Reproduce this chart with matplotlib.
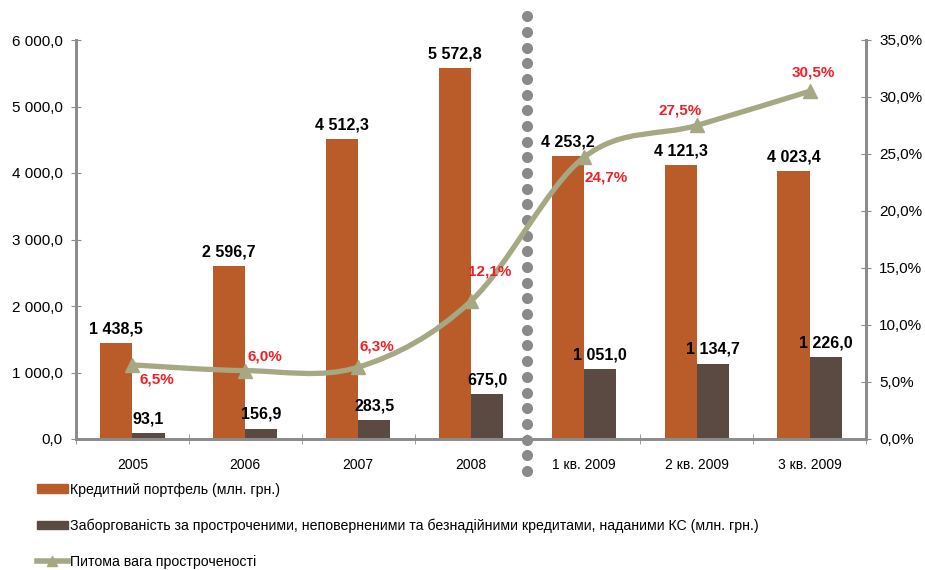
import matplotlib
matplotlib.use('Agg')
import matplotlib.pyplot as plt
from matplotlib.path import Path
from matplotlib.patches import PathPatch, Patch
from matplotlib.lines import Line2D
from matplotlib.ticker import FuncFormatter
import matplotlib.transforms as mtransforms
import numpy as np

categories = ['2005', '2006', '2007', '2008', '1 кв. 2009', '2 кв. 2009', '3 кв. 2009']
portfolio = [1438.5, 2596.7, 4512.3, 5572.8, 4253.2, 4121.3, 4023.4]
overdue = [93.1, 156.9, 283.5, 675.0, 1051.0, 1134.7, 1226.0]
share = [6.5, 6.0, 6.3, 12.1, 24.7, 27.5, 30.5]

c_orange = '#B95C29'
c_dark = '#5B4A42'
c_line = '#A5A883'
c_red = '#EE2027'
c_axis = '#8C8C8C'


def fmt_num(v, _=None):
    s = f'{v:,.1f}'.replace(',', ' ').replace('.', ',')
    return s


def fmt_pct(v, _=None):
    return f'{v:.1f}%'.replace('.', ',')


def smooth_path(xs, ys):
    # Catmull-Rom style smoothing, like the spreadsheet's smoothed line
    pts = np.column_stack([xs, ys]).astype(float)
    verts = [pts[0]]
    codes = [Path.MOVETO]
    n = len(pts)
    for i in range(n - 1):
        p0 = pts[i - 1] if i > 0 else pts[i]
        p1 = pts[i]
        p2 = pts[i + 1]
        p3 = pts[i + 2] if i + 2 < n else pts[i + 1]
        c1 = p1 + (p2 - p0) / 6
        c2 = p2 - (p3 - p1) / 6
        verts += [c1, c2, p2]
        codes += [Path.CURVE4] * 3
    return Path(verts, codes)


plt.rcParams['font.family'] = ['Liberation Sans', 'DejaVu Sans']
fig = plt.figure(figsize=(9.25, 5.7), dpi=100)
ax = fig.add_axes([76 / 925, 1 - 439 / 570, 790 / 925, 399 / 570])
ax2 = ax.twinx()

x = np.arange(len(categories))
w = 0.285
ax.bar(x - w / 2, portfolio, w, color=c_orange, zorder=2)
ax.bar(x + w / 2, overdue, w, color=c_dark, zorder=2)

for xi, v in zip(x, portfolio):
    ax.text(xi - w / 2, v + 100, fmt_num(v), ha='center', va='bottom',
            fontsize=11.5, fontweight='bold', color='black')
for xi, v in zip(x, overdue):
    ax.text(xi + w / 2, v + 100, fmt_num(v), ha='center', va='bottom',
            fontsize=11.5, fontweight='bold', color='black')

ax.set_xlim(-0.5, len(categories) - 0.5)
ax.set_ylim(0, 6000)
ax.set_yticks(np.arange(0, 6001, 1000))
ax.yaxis.set_major_formatter(FuncFormatter(fmt_num))
ax.set_xticks(x)
ax.set_xticklabels(categories, fontsize=10)
ax.set_xticks(np.arange(-0.5, len(categories), 1), minor=True)
ax.tick_params(axis='x', which='major', length=0, pad=14)
ax.tick_params(axis='x', which='minor', length=7, direction='inout', color=c_axis)
ax.tick_params(axis='y', length=7, direction='inout', color=c_axis, labelsize=11, pad=6)

ax2.set_ylim(0, 35)
ax2.set_yticks(np.arange(0, 35.1, 5))
ax2.yaxis.set_major_formatter(FuncFormatter(fmt_pct))
ax2.tick_params(axis='y', length=7, direction='inout', color=c_axis, labelsize=11, pad=6)

for a in (ax, ax2):
    a.spines['top'].set_visible(False)
    for s in ('left', 'right', 'bottom'):
        a.spines[s].set_color(c_axis)
        a.spines[s].set_linewidth(2)

ax2.add_patch(PathPatch(smooth_path(x, share), facecolor='none', edgecolor=c_line,
                        lw=3.8, zorder=3, capstyle='round'))
ax2.plot(x, share, ls='none', marker='^', ms=10, color=c_line, zorder=4)

offsets = [(0.22, -1.3), (0.17, 1.2), (0.17, 1.8), (0.17, 2.6),
           (0.2, -1.8), (-0.15, 1.3), (0.03, 1.65)]
for xi, v, (dx, dy) in zip(x, share, offsets):
    ax2.text(xi + dx, v + dy, fmt_pct(v), ha='center', va='center',
             fontsize=11, fontweight='bold', color=c_red, zorder=5)

# dotted separator between years and quarters
trans = mtransforms.blended_transform_factory(ax.transData, ax.transAxes)
ys = np.arange(-0.08, 1.09, 0.0393)
ax.plot([3.5] * len(ys), ys, ls='none', marker='o', ms=7, color='#8A8A8A',
        transform=trans, clip_on=False, zorder=6)

handles = [Patch(color=c_orange), Patch(color=c_dark),
           Line2D([0], [0], color=c_line, lw=4, marker='^', ms=7)]
labels = ['Кредитний портфель (млн. грн.)',
          'Заборгованість за простроченими, неповерненими та безнадійними кредитами, наданими КС (млн. грн.)',
          'Питома вага простроченості']
fig.legend(handles, labels, loc='upper left', bbox_to_anchor=(0.034, 0.163),
           frameon=False, labelspacing=1.55, handlelength=2.15, handleheight=0.55,
           handletextpad=0.2, borderaxespad=0,
           prop={'size': 10.2})

fig.savefig('out.png', dpi=100)
